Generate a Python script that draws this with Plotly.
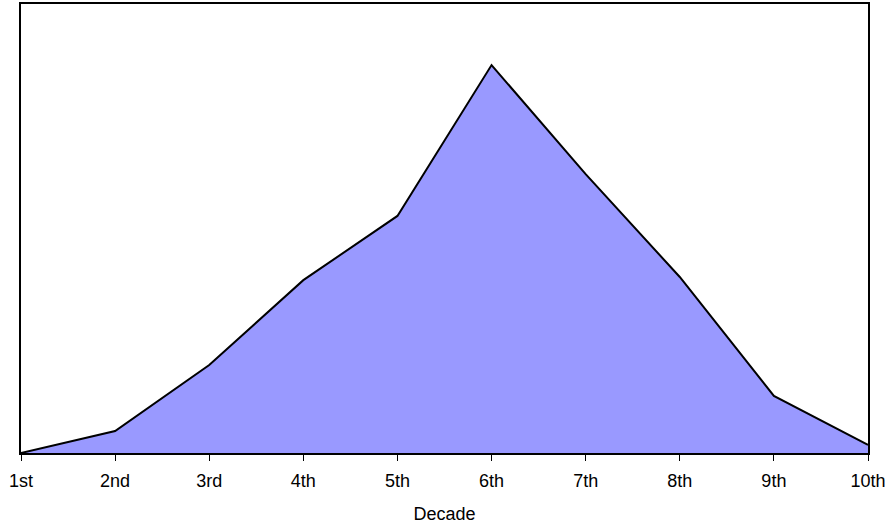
import plotly.graph_objects as go

decades = ["1st", "2nd", "3rd", "4th", "5th", "6th", "7th", "8th", "9th", "10th"]
values = [0, 4.9, 19.6, 38.5, 52.8, 86.4, 62.1, 39.2, 12.7, 1.8]

fig = go.Figure()
fig.add_trace(go.Scatter(
    x=decades, y=values, mode="lines", fill="tozeroy",
    fillcolor="#9999FF", line=dict(color="black", width=2),
    hoverinfo="x+y",
))

fig.update_layout(
    width=891, height=527,
    margin=dict(l=21, r=23, t=4, b=74, autoexpand=False),
    paper_bgcolor="white", plot_bgcolor="white",
    showlegend=False,
    font=dict(family="Liberation Sans, Arial, sans-serif", color="black", size=18),
    xaxis=dict(
        type="category", range=[0, 9], automargin=False,
        showline=True, linecolor="black", linewidth=2, mirror=True,
        ticks="outside", ticklen=6, tickcolor="black", tickwidth=1,
        ticklabelstandoff=4,
        showgrid=False, zeroline=False,
        tickfont=dict(size=18),
        title=dict(text="Decade", font=dict(size=18), standoff=18),
    ),
    yaxis=dict(
        range=[0, 100], automargin=False,
        showline=True, linecolor="black", linewidth=2, mirror=True,
        showticklabels=False, ticks="", showgrid=False, zeroline=False,
    ),
)

fig.write_html(
    "out.html",
    config={"displayModeBar": False},
    post_script="document.body.style.margin='0';document.body.style.overflow='hidden';",
)
